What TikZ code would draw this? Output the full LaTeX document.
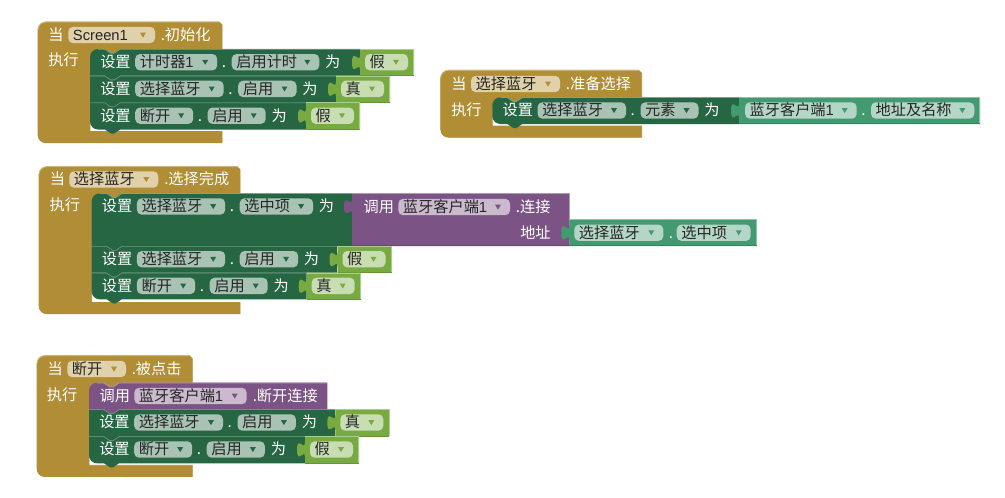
\documentclass[tikz,border=0pt]{standalone}
\usepackage{fontspec}
\setmainfont{Noto Sans CJK SC}
\newfontfamily\latinface[Scale=0.97]{Liberation Sans}
\newcommand{\la}[1]{{\latinface #1}}
\definecolor{goldc}{HTML}{B18E35}\definecolor{goldp}{HTML}{E0D1AA}\definecolor{goldh}{HTML}{D0BB86}\definecolor{goldd}{HTML}{A08030}
\definecolor{darkc}{HTML}{266643}\definecolor{darkp}{HTML}{A8C2B4}\definecolor{darkh}{HTML}{7DA390}\definecolor{darkd}{HTML}{1F5537}
\definecolor{limec}{HTML}{77AB41}\definecolor{limep}{HTML}{C9DDB3}\definecolor{limeh}{HTML}{ADCC8D}\definecolor{limed}{HTML}{66933A}
\definecolor{purc}{HTML}{7C5385}\definecolor{purp}{HTML}{CBBACE}\definecolor{purh}{HTML}{B09AB5}\definecolor{purd}{HTML}{6A4672}
\definecolor{tealc}{HTML}{439970}\definecolor{tealp}{HTML}{B4D6C6}\definecolor{tealh}{HTML}{8EC2A9}\definecolor{teald}{HTML}{398360}
\tikzset{
  lbl/.style={anchor=base west,inner sep=0pt,text=white,font=\fontsize{11.4pt}{13pt}\selectfont},
  pilltxt/.style={anchor=base west,inner sep=0pt,text=black!85,font=\fontsize{11.4pt}{13pt}\selectfont},
  hair/.style={line width=.55pt}
}
% x1 x2 cy text parentcolour pillcolour
\newcommand{\pill}[6]{%
  \fill[#6,rounded corners=3.6pt] (#1,{#3-8.2}) rectangle (#2,{#3+8.2});
  \node[pilltxt] at ({#1+4.4},{#3+5.3}) {#4};
  \fill[#5] ({#2-15},{#3-2.4}) -- ({#2-9},{#3-2.4}) -- ({#2-12},{#3+2.6}) -- cycle;
}
% x cy text
\newcommand{\lab}[3]{\node[lbl] at (#1,{#2+5.3}) {#3};}
% x left, top, header bottom, right, gold top of foot, stmt x
\newcommand{\hatc}[6]{%
  \fill[goldc,draw=goldc,hair] ({#1+8},#2) -- ({#4-3},#2) -- (#4,{#2+3}) -- (#4,#3) -- ({#6+30},#3) -- ({#6+24},{#3+4}) -- ({#6+21},{#3+4}) -- ({#6+15},#3) -- ({#6+9},#3) -- ({#6+9},{#3+2}) -- ({#6+2},{#3+9}) -- (#6,{#3+9}) -- (#6,#5) -- (#4,#5) -- (#4,{#5+11.3}) -- ({#1+8},{#5+11.3})
     .. controls ({#1+3.5},{#5+11.3}) and (#1,{#5+7.8}) .. (#1,{#5+3.3}) -- (#1,{#2+8}) .. controls (#1,{#2+3.5}) and ({#1+3.5},#2) .. ({#1+8},#2) -- cycle;
  \draw[goldh,hair] (#1,{#2+8}) .. controls (#1,{#2+3.5}) and ({#1+3.5},#2) .. ({#1+8},#2) -- ({#4-3},#2);
}
% x top bot right fill light r1 r2
\newcommand{\stmt}[8]{%
  \fill[#5] ({#1+#7},#2) -- ({#1+15},#2) -- ({#1+21},{#2+4}) -- ({#1+24},{#2+4}) -- ({#1+30},#2) -- (#4,#2) -- (#4,#3) -- ({#1+30},#3) -- ({#1+24},{#3+4}) -- ({#1+21},{#3+4}) -- ({#1+15},#3) -- ({#1+#8},#3)
     .. controls ({#1+.45*#8},#3) and (#1,{#3-.45*#8}) .. (#1,{#3-#8}) -- (#1,{#2+#7}) .. controls (#1,{#2+.45*#7}) and ({#1+.45*#7},#2) .. ({#1+#7},#2) -- cycle;
  \draw[#6,hair] ({#1+#7},{#2+.3}) -- ({#1+15},{#2+.3}) -- ({#1+21},{#2+4.3}) -- ({#1+24},{#2+4.3}) -- ({#1+30},{#2+.3}) -- (#4,{#2+.3});
}
% x top bot right fill light dark
\newcommand{\valb}[7]{%
  \fill[#5] (#1,#2) -- (#4,#2) -- (#4,#3) -- (#1,#3) -- (#1,{#2+21}) .. controls (#1,{#2+11}) and ({#1-8},{#2+29}) .. ({#1-8},{#2+13.5}) .. controls ({#1-8},{#2-2}) and (#1,{#2+16}) .. (#1,{#2+6}) -- cycle;
  \draw[#6,hair] (#1,{#2+.3}) -- ({#4-.3},{#2+.3}) -- ({#4-.3},#3);
  \draw[#7,hair] ({#4},{#3-.3}) -- (#1,{#3-.3});
}
% setter contents: x top f1 w1 f2 w2
\newcommand{\setrow}[6]{%
  \pgfmathsetmacro{\cy}{#2+13.2}
  \pgfmathsetmacro{\fa}{#1+45.2}
  \pgfmathsetmacro{\fb}{\fa+#4}
  \pgfmathsetmacro{\fc}{\fb+14.5}
  \pgfmathsetmacro{\fd}{\fc+#6}
  \lab{#1+10}{\cy}{设置}
  \pill{\fa}{\fb}{\cy}{#3}{darkc}{darkp}
  \lab{\fb+4.4}{\cy}{.}
  \pill{\fc}{\fd}{\cy}{#5}{darkc}{darkp}
  \lab{\fd+5.6}{\cy}{为}
}
% value boolean : x(dark end) top bot text
\newcommand{\boolv}[4]{%
  \valb{#1}{#2}{#3}{#1+54}{limec}{limeh}{limed}
  \pgfmathsetmacro{\cy}{#2+13.2}
  \pill{#1+5}{#1+48}{\cy}{#4}{limec}{limep}
}
\begin{document}
\begin{tikzpicture}[x=.75pt,y=-.75pt]
\useasboundingbox (0,0) rectangle (1005,497);
\fill[white] (0,0) rectangle (1005,497);

% ---------- Screen1 ----------
\hatc{38}{22}{49}{222}{131.5}{90}
\stmt{90}{102.5}{129.5}{306}{darkc}{darkh}{0}{8}
\stmt{90}{75.7}{102.5}{336}{darkc}{darkh}{0}{0}
\stmt{90}{49}{75.7}{360}{darkc}{darkh}{8}{0}
\lab{48}{35}{当}
\pill{68.3}{155}{35}{\la{Screen1}}{goldc}{goldp}
\lab{160.5}{35}{.初始化}
\lab{48}{60}{执行}
\setrow{90}{49}{计时器\la{1}}{82}{启用计时}{87.6}
\boolv{360}{49}{75.7}{假}
\setrow{90}{75.7}{选择蓝牙}{88.5}{启用}{58.3}
\boolv{336}{75.7}{102.5}{真}
\setrow{90}{102.5}{断开}{58}{启用}{58}
\boolv{306}{102.5}{129.5}{假}

% ---------- 准备选择 ----------
\hatc{440.7}{70.3}{97.3}{641.7}{126}{492.3}
\stmt{492.3}{97.3}{124}{739}{darkc}{darkh}{8}{8}
\lab{451}{84}{当}
\pill{471}{560}{84}{选择蓝牙}{goldc}{goldp}
\lab{565.7}{84}{.准备选择}
\lab{451}{110}{执行}
\setrow{492.3}{97.3}{选择蓝牙}{88.5}{元素}{58}
\valb{739}{97.3}{124}{980}{tealc}{tealh}{teald}
\pill{745}{856.7}{110.5}{蓝牙客户端\la{1}}{tealc}{tealp}
\lab{861}{110.5}{.}
\pill{871}{974.3}{110.5}{地址及名称}{tealc}{tealp}

% ---------- 选择完成 ----------
\hatc{39}{166.7}{193.3}{240}{302.5}{91.7}
\stmt{91.7}{272.7}{299.3}{306.7}{darkc}{darkh}{0}{8}
\stmt{91.7}{246}{272.7}{337}{darkc}{darkh}{0}{0}
\stmt{91.7}{193.3}{246}{352}{darkc}{darkh}{8}{0}
\lab{49.5}{179.5}{当}
\pill{69.3}{158.3}{179.5}{选择蓝牙}{goldc}{goldp}
\lab{164}{179.5}{.选择完成}
\lab{49.3}{205}{执行}
\setrow{91.7}{193.3}{选择蓝牙}{88.3}{选中项}{73.4}
\valb{352}{193.3}{246}{569.3}{purc}{purh}{purd}
\lab{363.3}{207}{调用}
\pill{398.3}{510}{207}{蓝牙客户端\la{1}}{purc}{purp}
\lab{515.7}{207}{.连接}
\lab{520}{232.7}{地址}
\valb{569.3}{219.3}{246}{756.7}{tealc}{tealh}{teald}
\pill{574.3}{663.3}{232.7}{选择蓝牙}{tealc}{tealp}
\lab{668.5}{232.7}{.}
\pill{676.7}{750.7}{232.7}{选中项}{tealc}{tealp}
\setrow{91.7}{246}{选择蓝牙}{88.3}{启用}{58.4}
\boolv{337.5}{246}{272.7}{假}
\setrow{91.7}{272.7}{断开}{58.3}{启用}{58}
\boolv{306.7}{272.7}{299.3}{真}

% ---------- 被点击 ----------
\hatc{37}{355.7}{382.7}{192.3}{465.3}{89}
\stmt{89}{436.3}{463.3}{305}{darkc}{darkh}{0}{8}
\stmt{89}{409.3}{436.3}{335}{darkc}{darkh}{0}{0}
\stmt{89}{382.7}{409.3}{327.3}{purc}{purh}{8}{0}
\lab{47.3}{369}{当}
\pill{67.3}{126}{369}{断开}{goldc}{goldp}
\lab{131.5}{369}{.被点击}
\lab{46.7}{395}{执行}
\lab{99.3}{396}{调用}
\pill{134.3}{246.7}{396}{蓝牙客户端\la{1}}{purc}{purp}
\lab{252.5}{396}{.断开连接}
\setrow{89}{409.3}{选择蓝牙}{88.8}{启用}{58.4}
\boolv{335.3}{409.3}{436.3}{真}
\setrow{89}{436.3}{断开}{58}{启用}{58.2}
\boolv{305}{436.3}{463.3}{假}
\end{tikzpicture}
\end{document}
